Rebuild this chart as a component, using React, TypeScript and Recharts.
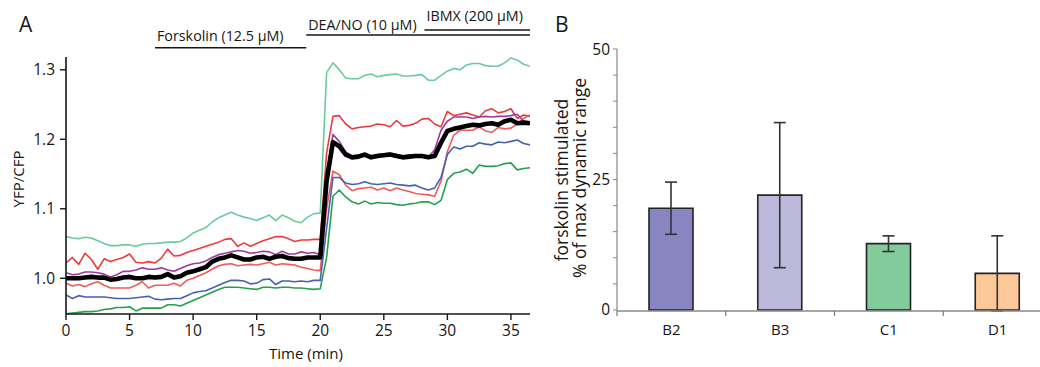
import React from 'react';
import { LineChart, Line, XAxis, YAxis, ReferenceLine, BarChart, Bar, ErrorBar, Cell } from 'recharts';

// ---------- Panel A data ----------
const timeMin = [
  0, 0.5, 1, 1.5, 2, 2.5, 3, 3.5, 4, 4.5,
  5, 5.5, 6, 6.5, 7, 7.5, 8, 8.5, 9, 9.5,
  10, 10.5, 11, 11.5, 12, 12.5, 13, 13.5, 14, 14.5,
  15, 15.5, 16, 16.5, 17, 17.5, 18, 18.5, 19, 19.5,
  20, 20.5, 21, 21.5, 22, 22.5, 23, 23.5, 24, 24.5,
  25, 25.5, 26, 26.5, 27, 27.5, 28, 28.5, 29, 29.5,
  30, 30.5, 31, 31.5, 32, 32.5, 33, 33.5, 34, 34.5,
  35, 35.5, 36, 36.5,
];

const aqua = [
  1.060, 1.058, 1.057, 1.059, 1.058, 1.054, 1.050, 1.047, 1.047, 1.048,
  1.048, 1.046, 1.049, 1.050, 1.050, 1.051, 1.052, 1.052, 1.053, 1.058,
  1.065, 1.069, 1.073, 1.081, 1.087, 1.091, 1.095, 1.091, 1.088, 1.086,
  1.083, 1.087, 1.091, 1.083, 1.091, 1.087, 1.082, 1.080, 1.088, 1.093,
  1.094, 1.296, 1.310, 1.300, 1.288, 1.287, 1.287, 1.292, 1.294, 1.290,
  1.292, 1.293, 1.294, 1.291, 1.291, 1.292, 1.293, 1.285, 1.285, 1.292,
  1.298, 1.302, 1.300, 1.307, 1.309, 1.309, 1.306, 1.305, 1.305, 1.310,
  1.317, 1.314, 1.308, 1.305,
];

const redUpper = [
  1.022, 1.030, 1.020, 1.036, 1.027, 1.013, 1.028, 1.024, 1.027, 1.030,
  1.035, 1.023, 1.022, 1.024, 1.022, 1.029, 1.042, 1.032, 1.033, 1.037,
  1.040, 1.043, 1.046, 1.049, 1.052, 1.056, 1.057, 1.046, 1.051, 1.046,
  1.050, 1.054, 1.057, 1.060, 1.060, 1.057, 1.053, 1.055, 1.055, 1.056,
  1.056, 1.180, 1.233, 1.234, 1.222, 1.215, 1.217, 1.218, 1.219, 1.222,
  1.221, 1.218, 1.227, 1.219, 1.220, 1.223, 1.229, 1.230, 1.222, 1.218,
  1.240, 1.234, 1.236, 1.238, 1.235, 1.232, 1.241, 1.244, 1.238, 1.240,
  1.244, 1.230, 1.235, 1.233,
];

const redLower = [
  0.993, 0.989, 0.991, 0.988, 0.992, 0.995, 0.990, 0.986, 0.986, 0.986,
  0.986, 0.990, 0.995, 0.986, 0.990, 0.990, 0.990, 0.993, 0.989, 0.997,
  1.000, 1.004, 1.008, 1.013, 1.018, 1.020, 1.021, 1.018, 1.019, 1.020,
  1.019, 1.021, 1.023, 1.019, 1.021, 1.020, 1.019, 1.016, 1.014, 1.012,
  1.011, 1.100, 1.154, 1.149, 1.134, 1.126, 1.129, 1.130, 1.131, 1.127,
  1.130, 1.126, 1.130, 1.127, 1.125, 1.122, 1.121, 1.120, 1.118, 1.140,
  1.182, 1.206, 1.213, 1.213, 1.213, 1.218, 1.212, 1.210, 1.217, 1.215,
  1.216, 1.222, 1.230, 1.235,
];

const purple = [
  1.008, 1.005, 1.006, 1.009, 1.009, 1.008, 1.006, 1.002, 1.005, 1.010,
  1.010, 1.012, 1.015, 1.013, 1.013, 1.015, 1.012, 1.010, 1.014, 1.018,
  1.021, 1.022, 1.025, 1.030, 1.034, 1.036, 1.038, 1.040, 1.039, 1.036,
  1.037, 1.039, 1.038, 1.034, 1.039, 1.035, 1.035, 1.038, 1.036, 1.037,
  1.034, 1.150, 1.207, 1.197, 1.182, 1.176, 1.177, 1.180, 1.176, 1.178,
  1.179, 1.180, 1.178, 1.176, 1.177, 1.178, 1.176, 1.174, 1.185, 1.213,
  1.226, 1.232, 1.232, 1.232, 1.230, 1.232, 1.233, 1.232, 1.233, 1.233,
  1.234, 1.236, 1.226, 1.225,
];

const meanTrace = [
  1.000, 1.000, 1.000, 1.001, 1.002, 1.001, 1.001, 0.998, 0.999, 1.001,
  1.002, 1.000, 1.000, 1.002, 1.001, 1.002, 1.006, 1.001, 1.003, 1.008,
  1.010, 1.013, 1.016, 1.024, 1.028, 1.030, 1.033, 1.030, 1.027, 1.027,
  1.030, 1.031, 1.028, 1.031, 1.032, 1.029, 1.028, 1.028, 1.030, 1.030,
  1.030, 1.140, 1.196, 1.190, 1.178, 1.174, 1.175, 1.178, 1.174, 1.176,
  1.177, 1.178, 1.176, 1.174, 1.175, 1.176, 1.176, 1.174, 1.176, 1.195,
  1.212, 1.215, 1.217, 1.219, 1.221, 1.220, 1.222, 1.223, 1.221, 1.226,
  1.228, 1.223, 1.224, 1.223,
];

const blue = [
  0.976, 0.971, 0.975, 0.973, 0.973, 0.973, 0.973, 0.972, 0.971, 0.971,
  0.971, 0.972, 0.973, 0.974, 0.970, 0.969, 0.970, 0.971, 0.971, 0.975,
  0.979, 0.981, 0.982, 0.986, 0.990, 0.994, 0.997, 0.997, 0.996, 0.992,
  0.993, 0.998, 0.999, 0.991, 0.996, 0.996, 0.995, 0.996, 0.995, 0.997,
  0.997, 1.072, 1.145, 1.145, 1.137, 1.135, 1.136, 1.139, 1.136, 1.135,
  1.136, 1.137, 1.135, 1.134, 1.133, 1.134, 1.130, 1.127, 1.130, 1.145,
  1.178, 1.189, 1.186, 1.190, 1.190, 1.195, 1.193, 1.192, 1.196, 1.195,
  1.197, 1.199, 1.194, 1.192,
];

const darkGreen = [
  0.949, 0.950, 0.951, 0.952, 0.952, 0.953, 0.955, 0.956, 0.958, 0.958,
  0.959, 0.953, 0.957, 0.957, 0.957, 0.957, 0.962, 0.962, 0.960, 0.964,
  0.968, 0.972, 0.976, 0.980, 0.984, 0.987, 0.987, 0.987, 0.986, 0.985,
  0.984, 0.987, 0.987, 0.986, 0.987, 0.987, 0.986, 0.986, 0.985, 0.984,
  0.985, 1.030, 1.118, 1.127, 1.117, 1.110, 1.107, 1.111, 1.107, 1.109,
  1.108, 1.108, 1.106, 1.105, 1.107, 1.108, 1.110, 1.110, 1.106, 1.112,
  1.142, 1.151, 1.153, 1.157, 1.151, 1.163, 1.161, 1.161, 1.162, 1.165,
  1.166, 1.156, 1.158, 1.159,
];

const xTicksA = [0, 5, 10, 15, 20, 25, 30, 35];
const yTicksA = [1.0, 1.1, 1.2, 1.3];

const treatmentLabels = ['Forskolin (12.5 µM)', 'DEA/NO (10 µM)', 'IBMX (200 µM)'];
const treatmentStart = [7.0, 18.9, 28.2];
const treatmentEnd = [18.9, 36.5, 36.5];

// ---------- Panel B data ----------
const clones = ['B2', 'B3', 'C1', 'D1'];
const stimulated = [19.5, 22.0, 12.7, 7.0];
const stimulatedErr = [5.0, 13.9, 1.5, 7.2];
const yTicksB = [0, 5, 10, 15, 20, 25, 30, 35, 40, 45, 50];

// ---------- tables / styles ----------
const lineData = timeMin.map((t, i) => ({
  t,
  aqua: aqua[i],
  redUpper: redUpper[i],
  redLower: redLower[i],
  blue: blue[i],
  darkGreen: darkGreen[i],
  purple: purple[i],
  mean: meanTrace[i],
}));

const lineSeries = [
  { key: 'aqua', color: '#6acb9c', width: 1.6 },
  { key: 'redUpper', color: '#ec3b3b', width: 1.6 },
  { key: 'redLower', color: '#f15b5b', width: 1.6 },
  { key: 'blue', color: '#4562b2', width: 1.6 },
  { key: 'darkGreen', color: '#24a04c', width: 1.6 },
  { key: 'purple', color: '#9a3c9c', width: 1.6 },
  { key: 'mean', color: '#000000', width: 4.6 },
];

const barData = clones.map((c, i) => ({ name: c, value: stimulated[i], err: stimulatedErr[i] }));
const barColors = ['#8985c0', '#bdb9dd', '#82cc9b', '#fdc899'];

// vertical placement of the treatment bars (style)
const treatmentLevel = [1.3318, 1.350, 1.3573];
const treatmentTextLift = [6.7, 5, 9];

const ink = '#161616';
const fontA = '"Open Sans"';
const fontB = '"Open Sans"';

const TreatmentMark = (props: any) => {
  const { x1, y1, x2, y2, label, lift } = props;
  return (
    <g>
      <line x1={x1} y1={y1} x2={x2} y2={y2} stroke={ink} strokeWidth={1.6} />
      <text x={x1 + 2} y={y1 - lift} fontSize={14.3} fill={ink} fontFamily={fontA}>
        {label}
      </text>
    </g>
  );
};

const CloneTick = (props: any) => {
  const { x, y, payload, width, visibleTicksCount } = props;
  let off = payload && payload.offset ? payload.offset : 0;
  if (!off && width && visibleTicksCount) off = width / visibleTicksCount / 2;
  return (
    <g>
      <line x1={x - off} y1={y - 13} x2={x - off} y2={y - 8} stroke="#777" strokeWidth={1.2} />
      <text x={x} y={y} dy="0.71em" textAnchor="middle" fontSize={15} fill={ink} fontFamily={fontB}>
        {payload.value}
      </text>
    </g>
  );
};

export default function App() {
  return (
    <div
      style={{
        position: 'fixed',
        left: 0,
        top: 0,
        width: 1040,
        height: 367,
        overflow: 'hidden',
        background: '#fff',
      }}
    >
      <div style={{ position: 'absolute', left: 0, top: 0, fontFamily: fontA }}>
        <LineChart
          width={540}
          height={367}
          data={lineData}
          margin={{ top: 57, right: 10, bottom: 23, left: 16 }}
        >
          <XAxis
            type="number"
            dataKey="t"
            domain={[0, 36.5]}
            ticks={xTicksA}
            allowDataOverflow
            axisLine={{ stroke: ink, strokeWidth: 1.6 }}
            tickLine={{ stroke: ink, strokeWidth: 1.4 }}
            tickSize={6}
            tickMargin={5}
            height={30}
            tick={{ fontSize: 15.5, fill: ink }}
          />
          <YAxis
            type="number"
            domain={[0.9486, 1.3184]}
            ticks={yTicksA}
            allowDataOverflow
            width={50}
            axisLine={{ stroke: ink, strokeWidth: 1.6 }}
            tickLine={{ stroke: ink, strokeWidth: 1.4 }}
            tickSize={6}
            tickMargin={5}
            tickFormatter={(v: number) => v.toFixed(1)}
            tick={{ fontSize: 15.5, fill: ink }}
          />
          {lineSeries.map((s) => (
            <Line
              key={s.key}
              type="linear"
              dataKey={s.key}
              stroke={s.color}
              strokeWidth={s.width}
              strokeLinejoin="round"
              dot={false}
              activeDot={false}
              isAnimationActive={false}
            />
          ))}
          {treatmentLabels.map((label, i) => (
            <ReferenceLine
              key={label}
              ifOverflow="visible"
              segment={[
                { x: treatmentStart[i], y: treatmentLevel[i] },
                { x: treatmentEnd[i], y: treatmentLevel[i] },
              ]}
              shape={(p: any) => <TreatmentMark {...p} label={label} lift={treatmentTextLift[i]} />}
            />
          ))}
        </LineChart>
      </div>

      <div style={{ position: 'absolute', left: 540, top: 0, fontFamily: fontB }}>
        <BarChart
          width={520}
          height={367}
          data={barData}
          margin={{ top: 49, right: 8, bottom: 25, left: 27 }}
        >
          <XAxis
            dataKey="name"
            axisLine={{ stroke: '#888', strokeWidth: 1.4 }}
            tickLine={false}
            tickSize={6}
            tickMargin={7}
            height={31}
            interval={0}
            tick={<CloneTick />}
          />
          <YAxis
            type="number"
            domain={[0, 50]}
            ticks={yTicksB}
            interval={0}
            width={50}
            axisLine={{ stroke: '#888', strokeWidth: 1.2 }}
            tickLine={{ stroke: '#888', strokeWidth: 1 }}
            tickSize={4}
            tickMargin={3}
            tickFormatter={(v: number) => (v % 25 === 0 ? String(v) : '')}
            tick={{ fontSize: 15.5, fill: ink }}
          />
          <Bar dataKey="value" barSize={44} stroke="#222" strokeWidth={1.6} isAnimationActive={false}>
            {barData.map((d, i) => (
              <Cell key={d.name} fill={barColors[i]} />
            ))}
            <ErrorBar dataKey="err" width={6} stroke="#333" strokeWidth={1.6} direction="y" />
          </Bar>
        </BarChart>
      </div>

      <svg
        width={1040}
        height={367}
        style={{ position: 'absolute', left: 0, top: 0, pointerEvents: 'none' }}
      >
        <text x={19} y={32} fontSize={21} fill={ink} fontFamily={fontA}>A</text>
        <text x={555} y={32} fontSize={21} fill={ink} fontFamily={fontB}>B</text>
        <text
          x={23.5}
          y={179}
          fontSize={15}
          fill={ink}
          fontFamily={fontA}
          textAnchor="middle"
          transform="rotate(-90 23.5 179)"
        >
          YFP/CFP
        </text>
        <text x={306} y={359} fontSize={15} fill={ink} fontFamily={fontA} textAnchor="middle">
          Time (min)
        </text>
        <text
          x={568}
          y={180}
          fontSize={17.5}
          fill={ink}
          fontFamily={fontB}
          textAnchor="middle"
          transform="rotate(-90 568 180)"
        >
          forskolin stimulated
        </text>
        <text
          x={585.5}
          y={178}
          fontSize={17.5}
          fill={ink}
          fontFamily={fontB}
          textAnchor="middle"
          transform="rotate(-90 585.5 178)"
        >
          % of max dynamic range
        </text>
      </svg>
    </div>
  );
}
